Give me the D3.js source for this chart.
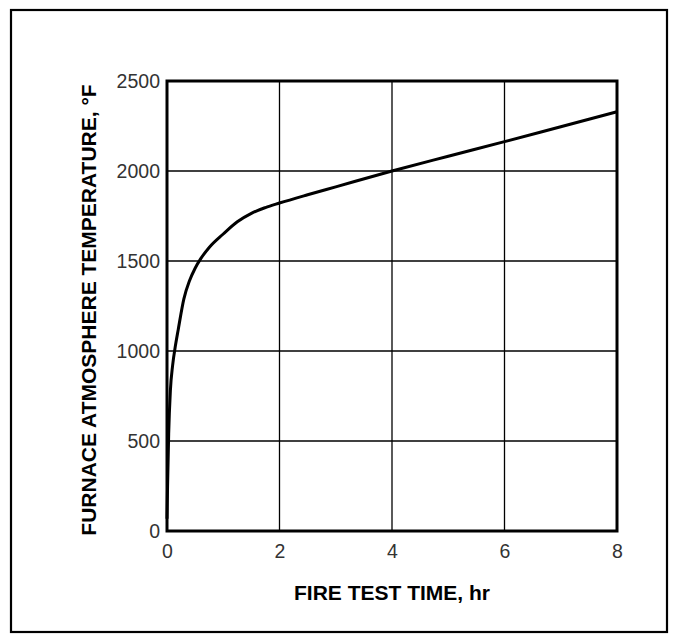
<!DOCTYPE html>
<html>
<head>
<meta charset="utf-8">
<script src="https://cdn.jsdelivr.net/npm/d3@7"></script>
<style>
  html, body { margin: 0; padding: 0; background: #fff; }
  svg { display: block; }
</style>
</head>
<body>
<svg id="chart" width="675" height="640"></svg>
<script>
// Data (time in hours, furnace temperature in °F)
const timeHr = [0, 0.01, 0.03, 0.06, 0.1, 0.15, 0.2, 0.3, 0.4, 0.5, 0.6, 0.75, 1.0, 1.25, 1.5, 1.75, 2, 2.5, 3, 4, 5, 6, 7, 8];
const tempF  = [68, 250, 540, 780, 920, 1030, 1120, 1290, 1390, 1460, 1513, 1575, 1650, 1718, 1765, 1797, 1822, 1868, 1912, 2000, 2082, 2163, 2246, 2329];
const xTicks = [0, 2, 4, 6, 8];
const yTicks = [0, 500, 1000, 1500, 2000, 2500];
const xTitle = "FIRE TEST TIME, hr";
const yTitle = "FURNACE ATMOSPHERE TEMPERATURE, °F";

const svg = d3.select("#chart");
const plot = { left: 167, right: 617, top: 81, bottom: 531 };

const x = d3.scaleLinear().domain([0, 8]).range([plot.left, plot.right]);
const y = d3.scaleLinear().domain([0, 2500]).range([plot.bottom, plot.top]);

// Outer border
svg.append("rect")
  .attr("x", 11).attr("y", 10).attr("width", 656).attr("height", 622)
  .attr("fill", "none").attr("stroke", "#000").attr("stroke-width", 2.2);

// Grid lines
const grid = svg.append("g").attr("stroke", "#000").attr("stroke-width", 1.3);
grid.selectAll(".vx").data(xTicks.slice(1, -1)).join("line")
  .attr("x1", d => x(d)).attr("x2", d => x(d))
  .attr("y1", plot.top).attr("y2", plot.bottom);
grid.selectAll(".hy").data(yTicks.slice(1, -1)).join("line")
  .attr("x1", plot.left).attr("x2", plot.right)
  .attr("y1", d => y(d)).attr("y2", d => y(d));

// Axes (labels)
const fontFam = "'Liberation Sans', Arial, Helvetica, sans-serif";
const yAxis = svg.append("g")
  .attr("transform", `translate(${plot.left},0)`)
  .call(d3.axisLeft(y).tickValues(yTicks).tickSize(0).tickPadding(7).tickFormat(d3.format("d")));
const xAxis = svg.append("g")
  .attr("transform", `translate(0,${plot.bottom})`)
  .call(d3.axisBottom(x).tickValues(xTicks).tickSize(0).tickPadding(13).tickFormat(d3.format("d")));
[xAxis, yAxis].forEach(a => {
  a.select(".domain").remove();
  a.selectAll("text").attr("font-family", fontFam).attr("font-size", 19.5).attr("fill", "#333");
});

// Plot frame
svg.append("rect")
  .attr("x", plot.left).attr("y", plot.top)
  .attr("width", plot.right - plot.left).attr("height", plot.bottom - plot.top)
  .attr("fill", "none").attr("stroke", "#000").attr("stroke-width", 3);

// Curve
const pts = timeHr.map((t, i) => [t, tempF[i]]);
svg.append("path")
  .datum(pts)
  .attr("fill", "none").attr("stroke", "#000").attr("stroke-width", 3)
  .attr("stroke-linejoin", "round")
  .attr("d", d3.line().x(d => x(d[0])).y(d => y(d[1])).curve(d3.curveMonotoneX));

// Titles
svg.append("text")
  .attr("x", (plot.left + plot.right) / 2).attr("y", 592)
  .attr("text-anchor", "middle").attr("dominant-baseline", "central")
  .attr("font-family", fontFam).attr("font-weight", "bold").attr("font-size", 21)
  .text(xTitle);
svg.append("text")
  .attr("transform", `translate(88,${(plot.top + plot.bottom) / 2 + 4}) rotate(-90)`)
  .attr("text-anchor", "middle").attr("dominant-baseline", "central")
  .attr("font-family", fontFam).attr("font-weight", "bold").attr("font-size", 21)
  .text(yTitle);
</script>
</body>
</html>
